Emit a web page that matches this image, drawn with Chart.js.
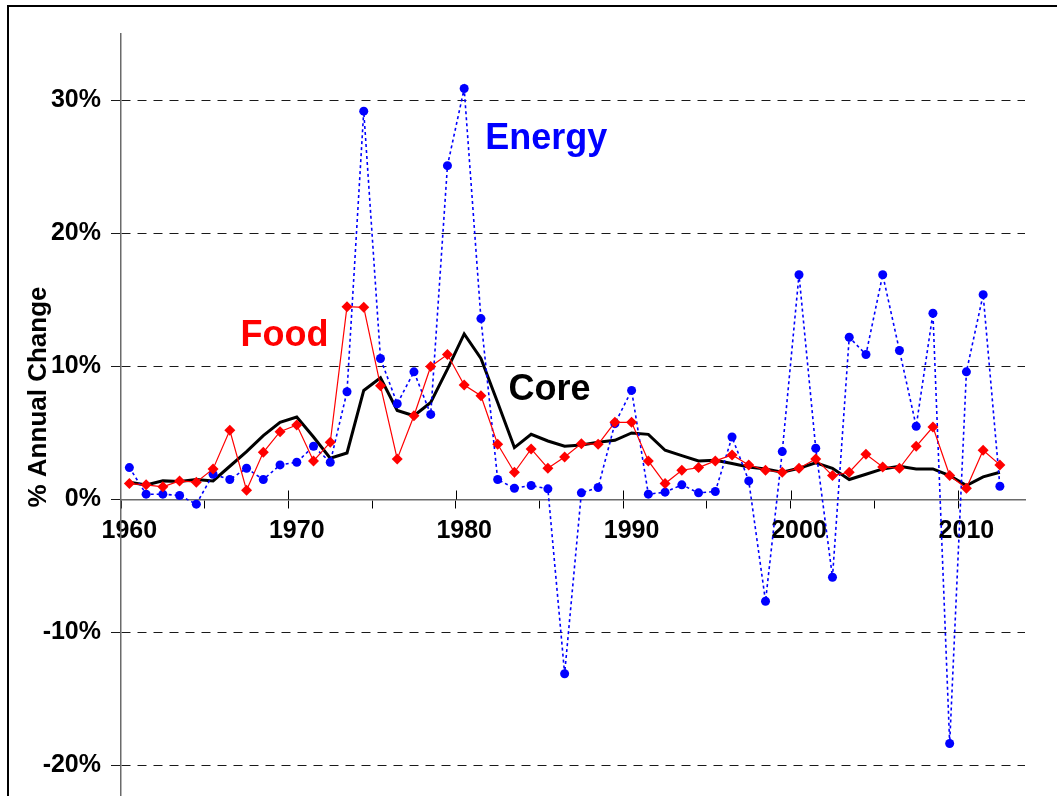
<!DOCTYPE html>
<html>
<head>
<meta charset="utf-8">
<script src="https://cdn.jsdelivr.net/npm/chart.js@4"></script>
<style>
  html, body { margin: 0; padding: 0; background: #fff; overflow: hidden; }
  #frame { position: absolute; left: 7px; top: 5px; width: 1100px; height: 900px; border: 2px solid #000; }
  #cpi { position: absolute; left: 0; top: 0; }
</style>
</head>
<body>
<div id="frame"></div>
<canvas id="cpi" width="1057" height="850"></canvas>
<script>
const years = ['1960','1961','1962','1963','1964','1965','1966','1967','1968','1969',
  '1970','1971','1972','1973','1974','1975','1976','1977','1978','1979',
  '1980','1981','1982','1983','1984','1985','1986','1987','1988','1989',
  '1990','1991','1992','1993','1994','1995','1996','1997','1998','1999',
  '2000','2001','2002','2003','2004','2005','2006','2007','2008','2009',
  '2010','2011','2012','2013']

const yTicks = [-20, -10, 0, 10, 20, 30]

const energy = [2.4, 0.4, 0.4, 0.3, -0.35, 1.9, 1.5, 2.35, 1.5, 2.6,
  2.8, 4.0, 2.8, 8.1, 29.2, 10.6, 7.2, 9.6, 6.4, 25.1,
  30.9, 13.6, 1.5, 0.85, 1.05, 0.8, -13.1, 0.5, 0.9, 5.7,
  8.2, 0.4, 0.55, 1.1, 0.5, 0.6, 4.7, 1.4, -7.65, 3.6,
  16.9, 3.85, -5.85, 12.2, 10.9, 16.9, 11.2, 5.5, 14.0, -18.35,
  9.6, 15.4, 1.0]

const food = [1.2, 1.1, 0.95, 1.4, 1.3, 2.3, 5.2, 0.7, 3.55, 5.1,
  5.6, 2.9, 4.3, 14.5, 14.45, 8.55, 3.05, 6.3, 10.0, 10.9,
  8.6, 7.8, 4.15, 2.05, 3.8, 2.35, 3.2, 4.2, 4.15, 5.8,
  5.8, 2.9, 1.2, 2.2, 2.4, 2.9, 3.35, 2.6, 2.2, 2.05,
  2.35, 3.05, 1.8, 2.05, 3.4, 2.45, 2.35, 4.0, 5.45, 1.8,
  0.85, 3.7, 2.6]

const core = [1.3, 1.1, 1.4, 1.35, 1.5, 1.4, 2.5, 3.6, 4.8, 5.8,
  6.2, 4.7, 3.1, 3.5, 8.2, 9.15, 6.7, 6.3, 7.3, 9.8,
  12.45, 10.6, 7.3, 3.9, 4.9, 4.4, 4.0, 4.1, 4.3, 4.45,
  5.0, 4.9, 3.7, 3.3, 2.9, 2.95, 2.7, 2.45, 2.3, 2.05,
  2.35, 2.75, 2.35, 1.5, 1.9, 2.3, 2.5, 2.3, 2.3, 1.8,
  1.05, 1.7, 2.05]

const FONT = '"Liberation Sans", Arial, sans-serif'

// series names drawn inside the plot, placed with the scales
const seriesLabels = [
  {text: 'Energy', at: 24.9, value: 27.1, color: '#0000ff'},
  {text: 'Food', at: 9.26, value: 12.3, color: '#ff0000'},
  {text: 'Core', at: 25.1, value: 8.2, color: '#000000'},
]

const extras = {
  id: 'extras',
  afterDraw(chart) {
    const {ctx, scales: {x, y}} = chart
    ctx.save()
    // upward half of the 10-year ticks
    const y0 = y.getPixelForValue(0)
    const half = (x.getPixelForValue(1) - x.getPixelForValue(0)) / 2
    ctx.strokeStyle = '#000'
    ctx.lineWidth = 1
    years.forEach((yr, i) => {
      if (i > 0 && i % 10 === 0) {
        const px = Math.round(x.getPixelForValue(i) - half) + 0.5
        ctx.beginPath()
        ctx.moveTo(px, y0 - 9)
        ctx.lineTo(px, y0)
        ctx.stroke()
      }
    })
    ctx.font = 'bold 36px ' + FONT
    ctx.textAlign = 'center'
    ctx.textBaseline = 'middle'
    seriesLabels.forEach(l => {
      ctx.fillStyle = l.color
      ctx.fillText(l.text, x.getPixelForValue(l.at), y.getPixelForValue(l.value))
    })
    // y axis title
    ctx.translate(46, 397)
    ctx.rotate(-Math.PI / 2)
    ctx.fillStyle = '#000'
    ctx.textBaseline = 'alphabetic'
    ctx.font = 'bold 26px ' + FONT
    ctx.fillText('% Annual Change', 0, 0)
    ctx.restore()
  }
}

new Chart(document.getElementById('cpi'), {
  type: 'line',
  plugins: [extras],
  data: {
    labels: years,
    datasets: [{
      label: 'Food',
      data: food,
      borderColor: '#ff0000',
      backgroundColor: '#ff0000',
      borderWidth: 1.2,
      pointStyle: 'rectRot',
      pointRadius: 5.5,
      pointBorderWidth: 0,
      order: 1,
    }, {
      label: 'Energy',
      data: energy,
      borderColor: '#0000ff',
      backgroundColor: '#0000ff',
      borderWidth: 1.6,
      borderDash: [3, 3],
      pointStyle: 'circle',
      pointRadius: 4.5,
      pointBorderWidth: 0,
      order: 2,
    }, {
      label: 'Core',
      data: core,
      borderColor: '#000000',
      borderWidth: 3,
      pointRadius: 0,
      order: 3,
    }]
  },
  options: {
    responsive: false,
    animation: false,
    devicePixelRatio: 1,
    layout: {padding: {top: 34, right: 32, bottom: 18, left: 0}},
    elements: {line: {tension: 0}},
    plugins: {legend: {display: false}, tooltip: {enabled: false}},
    scales: {
      x: {
        type: 'category',
        position: {y: 0},
        offset: true,
        grid: {
          offset: true,
          drawOnChartArea: false,
          tickLength: 8,
          tickWidth: 1,
          tickColor: c => (c.index % 5 === 0 ? '#000' : 'rgba(0,0,0,0)'),
        },
        border: {color: '#6a6a6a', width: 1.5},
        ticks: {
          autoSkip: false,
          maxRotation: 0,
          padding: 9,
          color: '#000',
          font: {family: FONT, size: 25, weight: 'bold'},
          callback: (v, i) => (i % 10 === 0 ? years[i] : ''),
        }
      },
      y: {
        min: -25,
        max: 35,
        afterFit: s => { s.width = 121; s.paddingTop = 0; s.paddingBottom = 0 },
        afterBuildTicks: s => { s.ticks = yTicks.map(v => ({value: v})) },
        grid: {
          color: c => (c.tick && c.tick.value === 0 ? 'rgba(0,0,0,0)' : '#1a1a1a'),
          tickColor: '#1a1a1a',
          tickLength: 10,
          lineWidth: 1,
        },
        border: {color: '#6a6a6a', width: 1.5, dash: [9, 7]},
        ticks: {
          padding: 10,
          color: '#000',
          font: {family: FONT, size: 25, weight: 'bold'},
          callback: v => v + '%',
        }
      }
    }
  }
});
</script>
</body>
</html>
